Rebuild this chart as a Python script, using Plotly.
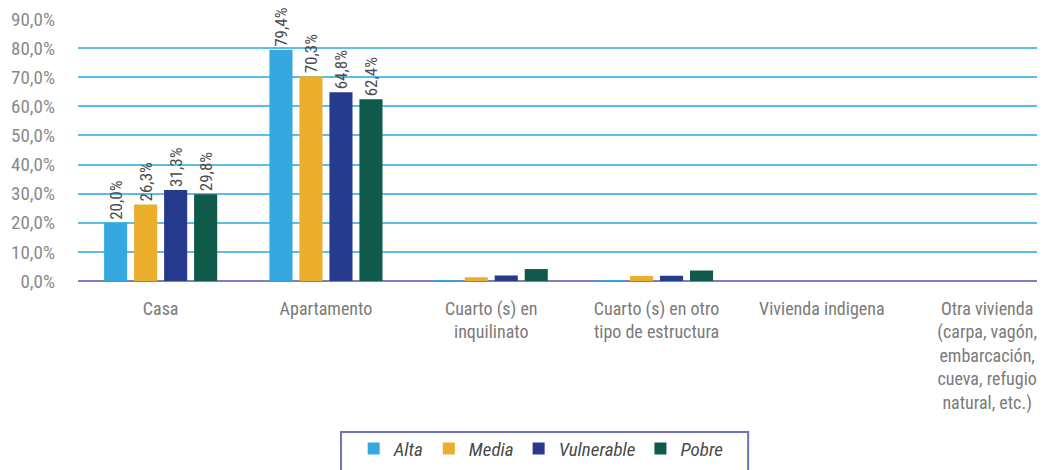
import plotly.graph_objects as go

categories = ["Casa", "Apartamento", "Cuarto (s) en<br>inquilinato",
              "Cuarto (s) en otro<br>tipo de estructura", "Vivienda indigena",
              "Otra vivienda<br>(carpa, vagón,<br>embarcación,<br>cueva, refugio<br>natural, etc.)"]
series_names = ["Alta", "Media", "Vulnerable", "Pobre"]
alta = [20.0, 79.4, 0.2, 0.2, 0.0, 0.0]
media = [26.3, 70.3, 1.3, 1.7, 0.0, 0.0]
vulnerable = [31.3, 64.8, 1.9, 1.8, 0.0, 0.0]
pobre = [29.8, 62.4, 4.1, 3.6, 0.0, 0.0]
colors = ["#35a8e0", "#ebae2c", "#263a8e", "#0f5a4a"]
tick_vals = [0, 10, 20, 30, 40, 50, 60, 70, 80, 90]
tick_text = ["0,0%", "10,0%", "20,0%", "30,0%", "40,0%", "50,0%", "60,0%", "70,0%", "80,0%", "90,0%"]

FONT = "Roboto Condensed, Liberation Sans Narrow, Roboto, Arial"

def lab(v, i):
    return (f"{v:.1f}".replace(".", ",") + "%") if i < 2 else ""

fig = go.Figure()
for name, vals, col in zip(series_names, [alta, media, vulnerable, pobre], colors):
    fig.add_trace(go.Bar(
        x=categories, y=vals, name=name, marker_color=col,
        marker_line_width=0,
        text=[lab(v, i) for i, v in enumerate(vals)],
        textposition="outside", textangle=-90,
        textfont=dict(family=FONT, size=17, color="#4d4d4d"),
        cliponaxis=False, constraintext="none",
    ))

# legend frame (drawn as a shape, in paper coords)
fig.add_shape(type="rect", xref="paper", yref="paper",
              x0=0.272, x1=0.693, y0=-0.76, y1=-0.576,
              line=dict(color="#6e72b8", width=2), fillcolor="rgba(0,0,0,0)")

fig.update_layout(
    width=1037, height=462,
    margin=dict(l=70, r=0, t=11, b=189),
    paper_bgcolor="white", plot_bgcolor="white",
    barmode="group", bargap=0.274, bargroupgap=0.23,
    font=dict(family=FONT, color="#8a8a8a"),
    showlegend=True,
    legend=dict(orientation="h", x=0.479, xanchor="center", y=-0.712, yanchor="bottom",
                borderwidth=0, bgcolor="rgba(0,0,0,0)",
                font=dict(family=FONT, size=19, color="#4a4a4a", style="italic"),
                itemwidth=30, traceorder="normal"),
    xaxis=dict(range=[-0.5, 5.35], showgrid=False, zeroline=False, showline=False,
               tickfont=dict(family=FONT, size=18, color="#7a7a7a"), ticks="",
               ticklabelstandoff=15, automargin=False, ticklabeloverflow="allow"),
    yaxis=dict(range=[0, 90], tickvals=tick_vals, ticktext=tick_text,
               showgrid=True, gridcolor="#5bbde8", gridwidth=1.5,
               zeroline=True, zerolinecolor="#7b7fc0", zerolinewidth=2,
               tickfont=dict(family=FONT, size=19, color="#8a8a8a"),
               ticklabelstandoff=22, showline=False, automargin=False,
               ticklabeloverflow="allow"),
)

fig.write_html("out.html")
